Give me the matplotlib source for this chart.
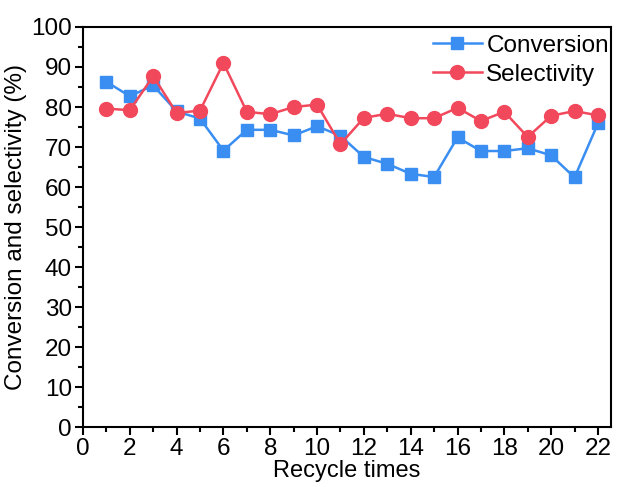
import matplotlib
matplotlib.use("Agg")
import matplotlib.pyplot as plt
from matplotlib.ticker import MultipleLocator

plt.rcParams['font.family'] = ['Liberation Sans', 'DejaVu Sans']

cycles = list(range(1, 23))
conversion = [86.3, 82.7, 85.4, 78.9, 77.1, 69.1, 74.3, 74.3, 72.9, 75.2, 72.8,
              67.5, 65.8, 63.3, 62.5, 72.4, 69.0, 69.0, 69.7, 67.9, 62.4, 75.9]
selectivity = [79.6, 79.2, 87.7, 78.5, 79.1, 91.0, 78.8, 78.2, 80.0, 80.6, 70.7,
               77.3, 78.3, 77.2, 77.2, 79.8, 76.5, 78.8, 72.5, 77.8, 79.0, 77.9]

blue = '#3a8ef2'
red = '#f2485c'

fig = plt.figure(figsize=(6.17, 4.87), dpi=100)
ax = fig.add_axes([0.1345, 0.123, 0.8555, 0.8216])

ax.plot(cycles, conversion, color=blue, marker='s', markersize=8.5, linewidth=1.8,
        label='Conversion', zorder=3)
ax.plot(cycles, selectivity, color=red, marker='o', markersize=10, linewidth=1.8,
        label='Selectivity', zorder=4)

ax.set_xlim(0, 22.55)
ax.set_ylim(0, 100)
ax.xaxis.set_major_locator(MultipleLocator(2))
ax.xaxis.set_minor_locator(MultipleLocator(1))
ax.yaxis.set_major_locator(MultipleLocator(10))
ax.yaxis.set_minor_locator(MultipleLocator(5))
ax.tick_params(which='major', direction='out', length=6, width=1.5, labelsize=17.5, pad=2)
ax.tick_params(which='minor', direction='out', length=3.5, width=1.5)
for s in ax.spines.values():
    s.set_linewidth(1.5)

ax.set_xlabel('Recycle times', fontsize=17, labelpad=0)
ax.set_ylabel('Conversion and selectivity (%)', fontsize=17.5, labelpad=3)

ax.legend(loc='upper right', frameon=False, fontsize=17.5, handlelength=2.0,
          handletextpad=0.2, labelspacing=0.28, borderaxespad=0.0,
          bbox_to_anchor=(1.015, 1.005))

fig.savefig('out.png', dpi=100)
